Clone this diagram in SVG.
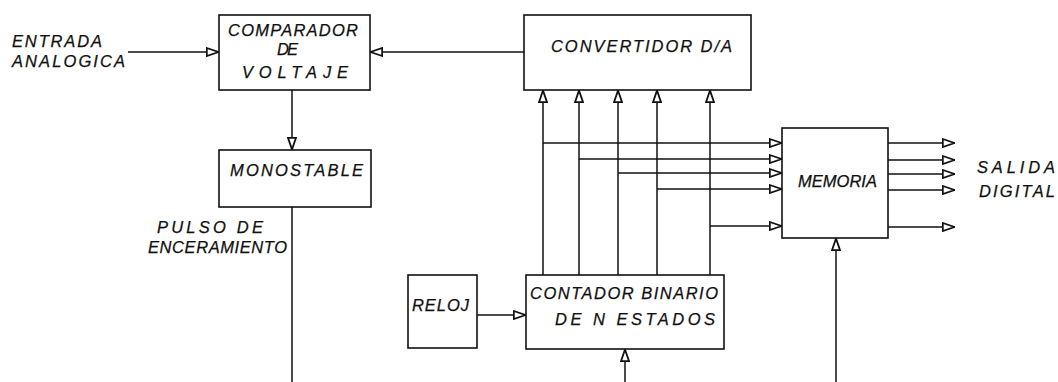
<svg xmlns="http://www.w3.org/2000/svg" width="1058" height="382" viewBox="0 0 1058 382">
<style>
.box{fill:#fff;stroke:#111;stroke-width:1.6}
.ln{fill:none;stroke:#111;stroke-width:1.5}
.t{font-family:"Liberation Sans",Arial,sans-serif;font-style:italic;font-size:16.5px;fill:#111;stroke:#111;stroke-width:0.25}
</style>
<defs>
<marker id="ah" viewBox="0 0 13 10" refX="13" refY="5" markerWidth="13" markerHeight="10" markerUnits="userSpaceOnUse" orient="auto">
<path d="M0.8,1 L12.5,5 L0.8,9 Z" fill="#fff" stroke="#111" stroke-width="1.8"/>
</marker>
</defs>
<rect width="1058" height="382" fill="#fff"/>
<g id="connectors">
<line class="ln" x1="128" y1="52" x2="219" y2="52" marker-end="url(#ah)"/>
<line class="ln" x1="524" y1="52" x2="370" y2="52" marker-end="url(#ah)"/>
<line class="ln" x1="292" y1="90" x2="292" y2="150" marker-end="url(#ah)"/>
<line class="ln" x1="292" y1="207" x2="292" y2="382"/>
<line class="ln" x1="543" y1="275" x2="543" y2="90" marker-end="url(#ah)"/>
<line class="ln" x1="579" y1="275" x2="579" y2="90" marker-end="url(#ah)"/>
<line class="ln" x1="618" y1="275" x2="618" y2="90" marker-end="url(#ah)"/>
<line class="ln" x1="657" y1="275" x2="657" y2="90" marker-end="url(#ah)"/>
<line class="ln" x1="710" y1="275" x2="710" y2="90" marker-end="url(#ah)"/>
<line class="ln" x1="543" y1="143" x2="782" y2="143" marker-end="url(#ah)"/>
<line class="ln" x1="579" y1="159" x2="782" y2="159" marker-end="url(#ah)"/>
<line class="ln" x1="618" y1="173" x2="782" y2="173" marker-end="url(#ah)"/>
<line class="ln" x1="657" y1="189" x2="782" y2="189" marker-end="url(#ah)"/>
<line class="ln" x1="710" y1="226" x2="782" y2="226" marker-end="url(#ah)"/>
<line class="ln" x1="888" y1="143" x2="955" y2="143" marker-end="url(#ah)"/>
<line class="ln" x1="888" y1="160" x2="955" y2="160" marker-end="url(#ah)"/>
<line class="ln" x1="888" y1="174" x2="955" y2="174" marker-end="url(#ah)"/>
<line class="ln" x1="888" y1="190" x2="955" y2="190" marker-end="url(#ah)"/>
<line class="ln" x1="888" y1="227" x2="955" y2="227" marker-end="url(#ah)"/>
<line class="ln" x1="836" y1="382" x2="836" y2="238" marker-end="url(#ah)"/>
<line class="ln" x1="477" y1="315" x2="526" y2="315" marker-end="url(#ah)"/>
<line class="ln" x1="625" y1="382" x2="625" y2="349" marker-end="url(#ah)"/>
</g>
<g id="entrada">
<text class="t" x="12" y="47" textLength="90" lengthAdjust="spacing">ENTRADA</text>
<text class="t" x="12" y="67" textLength="113" lengthAdjust="spacing">ANALOGICA</text>
</g>
<g id="comparador">
<rect class="box" x="219" y="15" width="151" height="75"/>
<text class="t" x="228" y="36" textLength="130" lengthAdjust="spacing">COMPARADOR</text>
<text class="t" x="277" y="55" textLength="21" lengthAdjust="spacing">DE</text>
<text class="t" x="242" y="78" textLength="106" lengthAdjust="spacing">VOLTAJE</text>
</g>
<g id="convertidor">
<rect class="box" x="524" y="15" width="227" height="75"/>
<text class="t" x="551" y="52" textLength="181" lengthAdjust="spacing">CONVERTIDOR D/A</text>
</g>
<g id="monostable">
<rect class="box" x="219" y="150" width="152" height="57"/>
<text class="t" x="230" y="176" textLength="133" lengthAdjust="spacing">MONOSTABLE</text>
</g>
<g id="pulso">
<text class="t" x="157" y="233" textLength="106" lengthAdjust="spacing">PULSO DE</text>
<text class="t" x="148" y="253" textLength="139" lengthAdjust="spacing">ENCERAMIENTO</text>
</g>
<g id="memoria">
<rect class="box" x="782" y="128" width="106" height="110"/>
<text class="t" x="798" y="187" textLength="79" lengthAdjust="spacing">MEMORIA</text>
</g>
<g id="salida">
<text class="t" x="977" y="173" textLength="78" lengthAdjust="spacing">SALIDA</text>
<text class="t" x="979" y="197" textLength="76" lengthAdjust="spacing">DIGITAL</text>
</g>
<g id="reloj">
<rect class="box" x="408" y="275" width="69" height="73"/>
<text class="t" x="412" y="311" textLength="57" lengthAdjust="spacing">RELOJ</text>
</g>
<g id="contador">
<rect class="box" x="526" y="275" width="198" height="74"/>
<text class="t" x="530" y="299" textLength="188" lengthAdjust="spacing">CONTADOR BINARIO</text>
<text class="t" x="555" y="325" textLength="160" lengthAdjust="spacing">DE N ESTADOS</text>
</g>
</svg>
